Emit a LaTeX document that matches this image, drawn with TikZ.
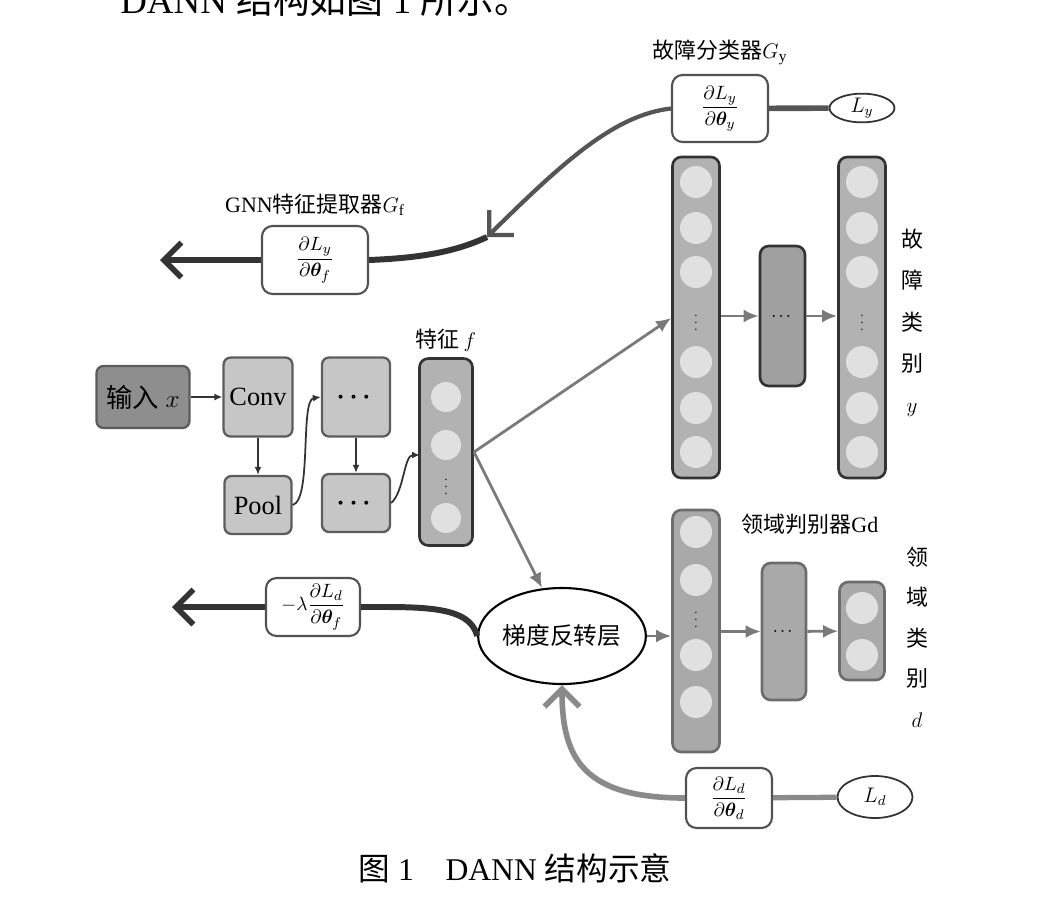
\documentclass[tikz,border=0pt]{standalone}
\usepackage{amsmath,amssymb,bm}
\usepackage{fontspec}
\setmainfont{Liberation Serif}
\newfontfamily\cjk{Noto Sans CJK SC}
\usetikzlibrary{arrows.meta,positioning,calc,shapes.geometric}
\definecolor{ink}{HTML}{333333}
\definecolor{lossline}{HTML}{555555}
\definecolor{wire}{HTML}{7A7A7A}
\definecolor{backflow}{HTML}{8A8A8A}
\definecolor{boxfill}{HTML}{C6C6C6}
\definecolor{colfill}{HTML}{B2B2B2}
\definecolor{unitfill}{HTML}{E0E0E0}
\definecolor{infill}{HTML}{8E8E8E}
\def\pxu{0.02cm}
\newcommand\labfont{\fontsize{12.5}{15}\selectfont}
\tikzset{lab/.style={font=\labfont,inner sep=1pt}, layer/.style={draw=ink!80,fill=boxfill,rounded corners=4pt,line width=1.3pt,font=\fontsize{15}{18}\selectfont}, inbox/.style={layer,fill=infill}, netcol/.style={draw=ink,fill=colfill,rounded corners=5pt,line width=1.5pt,minimum width=47*\pxu}, domcol/.style={netcol,draw=gray!85!black,fill=colfill!95!black}, unit/.style={circle,fill=unitfill,minimum size=32*\pxu,inner sep=0pt}, gradbox/.style={draw=ink!85,fill=white,rounded corners=6pt,line width=1.2pt,font=\fontsize{11}{13}\selectfont,inner sep=0pt}, lossnode/.style={ellipse,draw=ink,fill=white,line width=1pt,inner sep=0pt,font=\fontsize{12}{14}\selectfont}, thin/.style={-{Latex[length=1.6mm,width=1.4mm]},line width=1pt,draw=ink}, flow/.style={-{Latex[length=3mm,width=2.6mm]},line width=1.6pt,draw=wire}, back/.style={-{Straight Barb[length=3.5mm,width=7mm]},line width=3.2pt,draw=ink}}
\begin{document}
\begin{tikzpicture}[x=0.02cm,y=-0.02cm]
\useasboundingbox (0,0) rectangle (1058,904);
% running text and caption
\node[anchor=south west,font=\fontsize{21}{24}\selectfont,inner sep=0pt] (intro) at (120,17) {DANN {\cjk 结构如图} 1 {\cjk 所示。}};
\node[font=\fontsize{18}{20}\selectfont] (caption) at (515,868) {{\cjk 图} 1\quad DANN {\cjk 结构示意}};
% feature extractor
\node[inbox,minimum width=93*\pxu,minimum height=62*\pxu] (inp) at (143,397) {{\cjk 输入} $x$};
\node[layer,minimum width=67*\pxu,minimum height=79*\pxu] (conv) at (258,397) {Conv};
\node[layer,minimum width=67*\pxu,minimum height=58*\pxu] (pool) at (258,505) {Pool};
\node[layer,minimum width=68*\pxu,minimum height=79*\pxu] (mid1) at (356,397) {$\bm{\cdots}$};
\node[layer,minimum width=68*\pxu,minimum height=58*\pxu] (mid2) at (356,503) {$\bm{\cdots}$};
\node[netcol,minimum width=53*\pxu,minimum height=187*\pxu] (feat) at (446,452) {};
\foreach \yy in {397,445,518} \node[unit,minimum size=30*\pxu] (f\yy) at (446,\yy) {};
\node[font=\tiny] (fdots) at (446,482) {$\bm{\vdots}$};
\node[lab,above=2pt of feat] (featlab) {{\cjk 特征}\,$f$};
\draw[thin] (inp) -- (conv);
\draw[thin] (conv) -- (pool);
\draw[thin] (pool.east) .. controls (312,500) and (300,400) .. (mid1.west);
\draw[thin] (mid1) -- (mid2);
\draw[thin] (mid2.east) .. controls (404,492) and (404,455) .. (420,455);
% label classifier
\node[netcol,minimum height=321*\pxu] (cin) at (696,317.5) {};
\node[netcol,minimum height=321*\pxu] (cout) at (862,317.5) {};
\foreach \yy in {182,228,272,362,408,452} {
  \node[unit] (ci\yy) at (696,\yy) {};
  \node[unit] (co\yy) at (862,\yy) {};
}
\node[font=\tiny] (cidots) at (696,318) {$\bm{\vdots}$};
\node[font=\tiny] (codots) at (862,318) {$\bm{\vdots}$};
\node[netcol,fill=colfill!90!black,minimum width=45*\pxu,minimum height=140*\pxu] (chid) at (782.5,316) {\scriptsize$\bm{\cdots}$};
\draw[flow] (cin.east |- chid) -- (chid);
\draw[flow] (chid) -- (cout.west |- chid);
\node[lab,align=center,font=\fontsize{12.5}{23.5}\selectfont] (ylab) at (912,323) {{\cjk 故}\\{\cjk 障}\\{\cjk 类}\\{\cjk 别}\\$y$};
% domain classifier
\node[domcol,minimum height=242*\pxu] (din) at (696,631) {};
\foreach \yy in {532,580,655,702} \node[unit] (di\yy) at (696,\yy) {};
\node[font=\tiny] (didots) at (696,615) {$\bm{\vdots}$};
\node[domcol,minimum width=44*\pxu,minimum height=137*\pxu] (dhid) at (784,631.5) {\scriptsize$\bm{\cdots}$};
\node[domcol,minimum width=45*\pxu,minimum height=98*\pxu] (dout) at (862,631) {};
\foreach \yy in {608,655} \node[unit] (do\yy) at (862,\yy) {};
\node[lab] (dlab) at (810,524) {{\cjk 领域判别器}Gd};
\node[lab,align=center,font=\fontsize{12.5}{23}\selectfont] (dclab) at (917,637) {{\cjk 领}\\{\cjk 域}\\{\cjk 类}\\{\cjk 别}\\$d$};
% gradient reversal
\node[ellipse,draw=black,line width=1.2pt,minimum width=137*\pxu,minimum height=96*\pxu,inner sep=0pt,font=\fontsize{13.5}{16}\selectfont] (grl) at (562,636) {{\cjk 梯度反转层}};
\coordinate (fout) at (474,452);
\draw[flow] (fout) -- (cin.west |- 0,318);
\draw[flow] (fout) -- (542,588);
\draw[flow] (grl.east) -- (din.west |- grl.east);
\draw[flow] (din.east |- dhid) -- (dhid);
\draw[flow] (dhid) -- (dout);
% gradient paths
\node[gradbox,minimum width=96*\pxu,minimum height=67*\pxu] (gy) at (720,108.5) {$\dfrac{\partial L_y}{\partial\bm{\theta}_y}$};
\node[lab,above=4pt of gy] (gylab) {{\cjk 故障分类器}$G_{\mathrm{y}}$};
\node[lossnode,minimum width=65*\pxu,minimum height=28*\pxu] (ly) at (862,108) {$L_y$};
\node[gradbox,minimum width=106*\pxu,minimum height=68*\pxu] (gf) at (315,260) {$\dfrac{\partial L_y}{\partial\bm{\theta}_f}$};
\node[lab,above=4pt of gf] (gflab) {GNN{\cjk 特征提取器}$G_{\mathrm{f}}$};
\node[gradbox,minimum width=94*\pxu,minimum height=58*\pxu] (lam) at (313,607) {$-\lambda\dfrac{\partial L_d}{\partial\bm{\theta}_f}$};
\node[gradbox,minimum width=86*\pxu,minimum height=60*\pxu] (gd) at (729,798) {$\dfrac{\partial L_d}{\partial\bm{\theta}_d}$};
\node[lossnode,minimum width=75*\pxu,minimum height=42*\pxu] (ld) at (875,797) {$L_d$};
\coordinate (join) at (487,237);
\coordinate (fend) at (160,260);
\coordinate (dend) at (172,607);
\draw[line width=3.2pt,draw=lossline] (gy) -- (ly);
\draw[back,line width=2.4pt,draw=lossline] (gy.west) .. controls (615,115) and (565,160) .. (join);
\draw[line width=3.4pt,draw=ink] (join) .. controls (455,252) and (420,258) .. (gf.east);
\draw[back] (gf) -- (fend);
\draw[line width=3.4pt,draw=ink] (grl.west) .. controls (470,605) and (420,607) .. (lam.east);
\draw[back] (lam) -- (dend);
\draw[line width=3pt,draw=backflow] (ld) -- (gd);
\draw[back,draw=backflow] (gd.west) .. controls (585,798) and (562,760) .. (grl.south);
\end{tikzpicture}
\end{document}
